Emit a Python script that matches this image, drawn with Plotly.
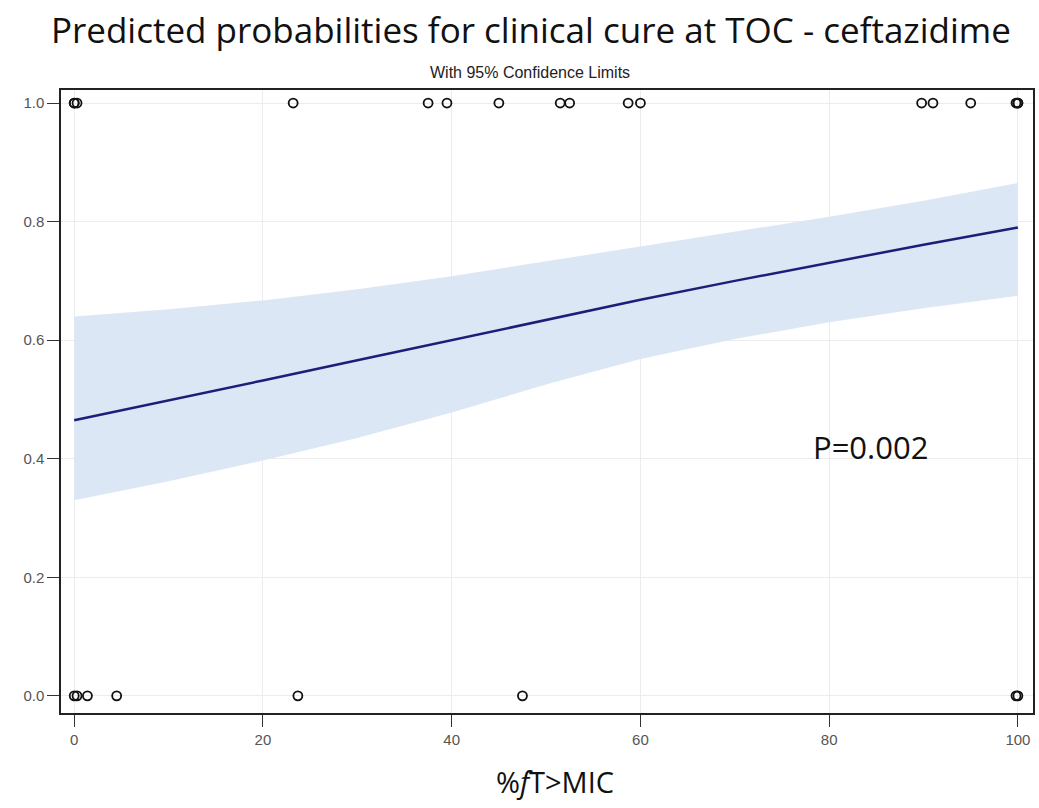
import plotly.graph_objects as go

# Observed outcomes (clinical cure = 1, failure = 0)
cure_x = [0, 0.3, 0, 23.2, 37.5, 39.5, 45.0, 51.5, 52.5, 58.7, 60.0, 89.8, 91.0, 95.0, 100, 100, 99.8]
cure_y = [1] * len(cure_x)
fail_x = [0, 0.3, 1.4, 4.5, 23.7, 47.5, 100, 99.8]
fail_y = [0] * len(fail_x)

# Predicted probability curve and 95% confidence limits
pred_x = [0, 10, 20, 30, 40, 50, 60, 70, 80, 90, 100]
pred_p = [0.465, 0.498, 0.532, 0.566, 0.600, 0.634, 0.668, 0.700, 0.731, 0.761, 0.790]
upper = [0.640, 0.652, 0.667, 0.686, 0.708, 0.733, 0.758, 0.782, 0.808, 0.835, 0.865]
lower = [0.330, 0.362, 0.397, 0.435, 0.478, 0.525, 0.568, 0.602, 0.630, 0.654, 0.675]

x_ticks = [0, 20, 40, 60, 80, 100]
y_ticks = [0.0, 0.2, 0.4, 0.6, 0.8, 1.0]
y_tick_labels = ["0.0", "0.2", "0.4", "0.6", "0.8", "1.0"]

fig = go.Figure()

fig.add_trace(go.Scatter(x=pred_x, y=upper, mode="lines", line=dict(width=0),
                         hoverinfo="skip", showlegend=False))
fig.add_trace(go.Scatter(x=pred_x, y=lower, mode="lines", line=dict(width=0),
                         fill="tonexty", fillcolor="rgba(218,230,246,0.95)",
                         hoverinfo="skip", showlegend=False))
fig.add_trace(go.Scatter(x=pred_x, y=pred_p, mode="lines",
                         line=dict(color="#1c1f78", width=2.5), showlegend=False))

marker = dict(symbol="circle-open", size=9, color="#111111", line=dict(width=1.8, color="#111111"))
fig.add_trace(go.Scatter(x=cure_x, y=cure_y, mode="markers", marker=marker, showlegend=False))
fig.add_trace(go.Scatter(x=fail_x, y=fail_y, mode="markers", marker=marker, showlegend=False))

fig.update_layout(
    width=1039, height=808,
    margin=dict(l=61, r=4, t=90, b=95),
    paper_bgcolor="white", plot_bgcolor="white",
    title=dict(text="Predicted probabilities for clinical cure at TOC - ceftazidime",
               x=0.511, xanchor="center", y=0.962, yanchor="middle",
               font=dict(family="Open Sans, sans-serif", size=35, color="#111111")),
    xaxis=dict(range=[-1.4, 101.6], tickvals=x_ticks, ticks="outside", ticklen=12,
               tickcolor="#333", tickwidth=1.2,
               showgrid=True, gridcolor="#ececec", gridwidth=1, zeroline=False,
               showline=True, linecolor="#222", linewidth=1.5, mirror=True,
               tickfont=dict(family="Liberation Sans, Arial", size=15, color="#555")),
    yaxis=dict(range=[-0.029, 1.022], tickvals=y_ticks, ticktext=y_tick_labels,
               ticks="outside", ticklen=12, tickcolor="#333", tickwidth=1.2,
               showgrid=True, gridcolor="#ececec", gridwidth=1, zeroline=False,
               showline=True, linecolor="#222", linewidth=1.5, mirror=True,
               tickfont=dict(family="Liberation Sans, Arial", size=15, color="#555")),
    annotations=[
        dict(text="With 95% Confidence Limits", xref="paper", yref="paper",
             x=0.483, y=1.0, yshift=18, xanchor="center", yanchor="middle", showarrow=False,
             font=dict(family="Liberation Sans, Arial", size=16, color="#222")),
        dict(text="P=0.002", xref="x", yref="y", x=84.4, y=0.42,
             xanchor="center", yanchor="middle", showarrow=False,
             font=dict(family="Open Sans, sans-serif", size=31, color="#111")),
        dict(text="%<i>f</i>T>MIC", xref="x", yref="paper", x=51, y=0, yshift=-68,
             xanchor="center", yanchor="middle", showarrow=False,
             font=dict(family="Open Sans, sans-serif", size=29, color="#111")),
    ],
)

fig.write_html("out.html")
